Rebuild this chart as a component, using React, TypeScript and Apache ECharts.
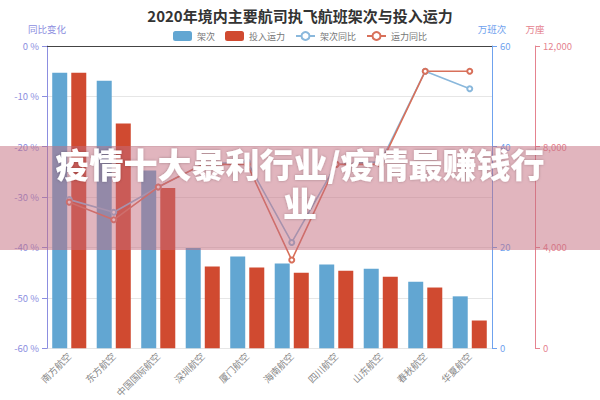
import React, { useEffect, useRef } from "react";
import * as echarts from "echarts";

const categories = ["南方航空", "东方航空", "中国国际航空", "深圳航空", "厦门航空", "海南航空", "四川航空", "山东航空", "春秋航空", "华夏航空"];
const flights = [54.7, 53.1, 35.3, 19.9, 18.2, 16.8, 16.6, 15.8, 13.2, 10.3];
const seats = [10935, 8920, 6360, 3240, 3200, 3000, 3080, 2840, 2410, 1100];
const flightsYoY = [-30.5, -33, -28, -23.5, -23, -39, -23.5, -23, -5, -8.5];
const seatsYoY = [-31, -34.5, -28, -23.5, -23.5, -42.5, -23.5, -23.5, -5, -5];
const leftTicks = { min: -60, max: 0, interval: 10 };
const midTicks = { min: 0, max: 60, interval: 20 };
const rightTicks = { min: 0, max: 12000, interval: 4000 };

const FONT = "'Noto Sans CJK SC', 'Noto Sans', sans-serif";
const BLUE = "#62a6d2";
const RED = "#d04a30";
const LINE_BLUE = "#8ab8dc";
const LINE_RED = "#d8705a";
const AX_LEFT = "#8c8ee0";
const AX_MID = "#6fa2ee";
const AX_RIGHT = "#e5838f";

export default function App() {
  const ref = useRef<HTMLDivElement>(null);
  useEffect(() => {
    if (!ref.current) return;
    const chart = echarts.init(ref.current, null, { renderer: "svg" });
    chart.setOption({
      animation: false,
      backgroundColor: "#fff",
      textStyle: { fontFamily: FONT },
      title: {
        text: "2020年境内主要航司执飞航班架次与投入运力",
        left: "center",
        top: 3,
        textStyle: { fontSize: 15, fontWeight: "bold", color: "#333", fontFamily: FONT },
      },
      legend: {
        top: 26,
        left: "center",
        itemWidth: 19,
        itemHeight: 10,
        itemGap: 10,
        textStyle: { fontSize: 9, color: "#777", fontFamily: FONT },
        data: [
          { name: "架次", icon: "roundRect" },
          { name: "投入运力", icon: "roundRect" },
          { name: "架次同比" },
          { name: "运力同比" },
        ],
      },
      grid: { left: 47, right: 108, top: 46, bottom: 50, containLabel: false },
      xAxis: {
        type: "category",
        data: categories,
        axisLine: { lineStyle: { color: "#444" } },
        axisTick: { alignWithLabel: true, lineStyle: { color: "#444" } },
        axisLabel: { rotate: 45, fontSize: 9.5, color: "#888", interval: 0, margin: 6, fontFamily: FONT },
      },
      yAxis: [
        {
          type: "value",
          name: "同比变化",
          position: "left",
          ...leftTicks,
          nameGap: 12,
          nameTextStyle: { color: AX_LEFT, fontSize: 9.5, align: "center", fontFamily: FONT },
          axisLine: { show: true, lineStyle: { color: AX_LEFT } },
          axisTick: { show: true, lineStyle: { color: AX_LEFT } },
          axisLabel: { formatter: "{value} %", color: AX_LEFT, fontSize: 9.5 },
          splitLine: { show: true, lineStyle: { color: "#e6e6e6" } },
        },
        {
          type: "value",
          name: "万班次",
          position: "right",
          ...midTicks,
          nameGap: 12,
          nameTextStyle: { color: AX_MID, fontSize: 9.5, align: "center", fontFamily: FONT },
          axisLine: { show: true, lineStyle: { color: AX_MID } },
          axisTick: { show: true, lineStyle: { color: AX_MID } },
          axisLabel: { color: AX_MID, fontSize: 9.5 },
          splitLine: { show: false },
        },
        {
          type: "value",
          name: "万座",
          position: "right",
          offset: 43,
          ...rightTicks,
          nameGap: 12,
          nameTextStyle: { color: AX_RIGHT, fontSize: 9.5, align: "center", fontFamily: FONT },
          axisLine: { show: true, lineStyle: { color: AX_RIGHT } },
          axisTick: { show: true, lineStyle: { color: AX_RIGHT } },
          axisLabel: {
            color: AX_RIGHT,
            fontSize: 9.5,
            formatter: (v: number) => v.toLocaleString("en-US"),
          },
          splitLine: { show: false },
        },
      ],
      series: [
        {
          name: "架次",
          type: "bar",
          yAxisIndex: 1,
          data: flights,
          barWidth: 15,
          barGap: "27%",
          itemStyle: { color: BLUE },
        },
        {
          name: "投入运力",
          type: "bar",
          yAxisIndex: 2,
          data: seats,
          barWidth: 15,
          itemStyle: { color: RED },
        },
        {
          name: "架次同比",
          type: "line",
          yAxisIndex: 0,
          data: flightsYoY,
          symbol: "emptyCircle",
          symbolSize: 5,
          lineStyle: { color: LINE_BLUE, width: 1.6 },
          itemStyle: { color: LINE_BLUE },
        },
        {
          name: "运力同比",
          type: "line",
          yAxisIndex: 0,
          data: seatsYoY,
          symbol: "emptyCircle",
          symbolSize: 5,
          lineStyle: { color: LINE_RED, width: 1.6 },
          itemStyle: { color: LINE_RED },
        },
      ],
      graphic: [
        {
          type: "rect",
          z: 100,
          shape: { x: 0, y: 146, width: 600, height: 104 },
          style: { fill: "rgba(196,108,126,0.5)" },
        },
        {
          type: "text",
          z: 101,
          x: 300,
          y: 183,
          style: {
            text: "疫情十大暴利行业/疫情最赚钱行\n业",
            fill: "#fff",
            font: `900 34px ${FONT}`,
            align: "center",
            verticalAlign: "middle",
            lineHeight: 39,
            textShadowColor: "rgba(0,0,0,0.25)",
            textShadowBlur: 3,
          },
        },
      ],
    });
    return () => chart.dispose();
  }, []);
  return <div ref={ref} style={{ width: 600, height: 400, position: "absolute", left: 0, top: 0 }} />;
}
